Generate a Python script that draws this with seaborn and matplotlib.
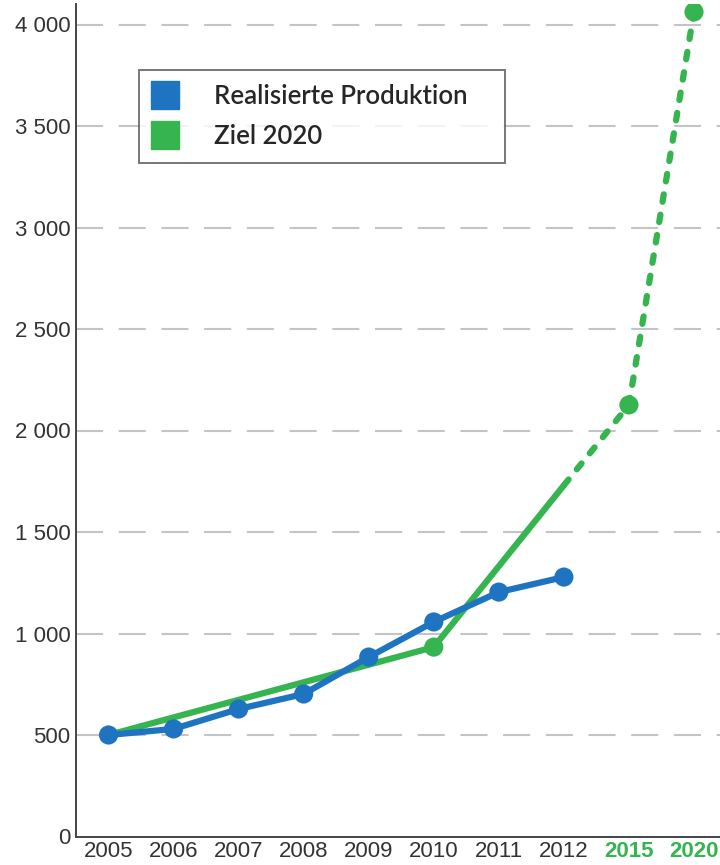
import matplotlib
matplotlib.use("Agg")
import matplotlib.pyplot as plt
import numpy as np
import pandas as pd
import seaborn as sns
from matplotlib.lines import Line2D
from matplotlib.ticker import FuncFormatter, MultipleLocator

years = ["2005", "2006", "2007", "2008", "2009", "2010", "2011", "2012", "2015", "2020"]

prod_years = ["2005", "2006", "2007", "2008", "2009", "2010", "2011", "2012"]
prod_values = [500, 530, 628, 702, 884, 1057, 1204, 1278]

goal_solid_years = ["2005", "2010", "2012"]
goal_solid_values = [500, 933, 1730]
goal_dash_years = ["2012", "2015", "2020"]
goal_dash_values = [1730, 2126, 4062]
goal_marker_years = ["2010", "2015", "2020"]
goal_marker_values = [933, 2126, 4062]

BLUE = "#1f74c1"
GREEN = "#35b44f"
TEXT = "#333333"


def frame(xs, ys):
    return pd.DataFrame({"x": [years.index(v) for v in xs], "y": ys})


sns.set_style("white")
plt.rcParams["font.family"] = ["Liberation Sans", "DejaVu Sans"]

fig = plt.figure(figsize=(7.2, 8.65), dpi=100)
ax = fig.add_axes([76 / 720, 28.5 / 865, 1 - 76 / 720, 832.3 / 865])

for val in range(500, 4001, 500):
    ax.axhline(val, color="#c4c4c4", lw=1.5, dashes=(13, 7.5), zorder=0)

sns.lineplot(data=frame(goal_solid_years, goal_solid_values), x="x", y="y",
             ax=ax, color=GREEN, lw=4.5, zorder=2)
sns.lineplot(data=frame(goal_dash_years, goal_dash_values), x="x", y="y",
             ax=ax, color=GREEN, lw=4.5, zorder=2)
ax.lines[-1].set_dashes((1.2, 2.1))
ax.lines[-1].set_dash_capstyle("round")
sns.scatterplot(data=frame(goal_marker_years, goal_marker_values), x="x", y="y",
                ax=ax, color=GREEN, s=190, edgecolor="none", zorder=3)

sns.lineplot(data=frame(prod_years, prod_values), x="x", y="y", ax=ax,
             color=BLUE, lw=4.5, zorder=4)
sns.scatterplot(data=frame(prod_years, prod_values), x="x", y="y", ax=ax,
                color=BLUE, s=190, edgecolor="none", zorder=5)

ax.set_xlabel("")
ax.set_ylabel("")

ax.yaxis.set_major_locator(MultipleLocator(500))
ax.yaxis.set_major_formatter(FuncFormatter(lambda v, p: f"{int(v):,}".replace(",", " ")))
ax.tick_params(axis="y", length=0, pad=4, labelsize=16, labelcolor=TEXT)

ax.set_xticks(np.arange(len(years)))
ax.set_xticklabels(years)
ax.set_xticks(np.arange(len(years)) + 0.5, minor=True)
ax.tick_params(axis="x", which="major", length=0, pad=3, labelsize=16, labelcolor=TEXT)
ax.tick_params(axis="x", which="minor", length=7, width=1.2, color="#444444", direction="out")
for lab in ax.get_xticklabels():
    if lab.get_text() in ("2015", "2020"):
        lab.set_color(GREEN)
        lab.set_fontweight("bold")

# limits after the ticks, set_xticks widens the view
ax.set_xlim(-0.5, 9.4)
ax.set_ylim(0, 4100)

for side in ("top", "right"):
    ax.spines[side].set_visible(False)
for side in ("left", "bottom"):
    ax.spines[side].set_color("#444444")
    ax.spines[side].set_linewidth(1.4)

handles = [
    Line2D([], [], ls="none", marker="s", ms=20, color=BLUE),
    Line2D([], [], ls="none", marker="s", ms=20, color=GREEN),
]
leg_w = 366 / 644
leg_h = 94 / 832.3
leg_top = (836.5 - 70) / 832.3
leg = ax.legend(handles, ["Realisierte Produktion", "Ziel 2020"],
                loc="upper left", mode="expand",
                bbox_to_anchor=((139 - 76) / 644, leg_top - leg_h, leg_w, leg_h),
                frameon=True, fancybox=False,
                prop={"family": "Lato", "size": 18.5, "weight": 600},
                handletextpad=1.45, labelspacing=0.58, borderpad=0.55, handlelength=0.9,
                borderaxespad=0)
leg.get_frame().set_edgecolor("#555555")
leg.get_frame().set_linewidth(1.4)
leg.set_zorder(10)

fig.savefig("out.png", dpi=100)
